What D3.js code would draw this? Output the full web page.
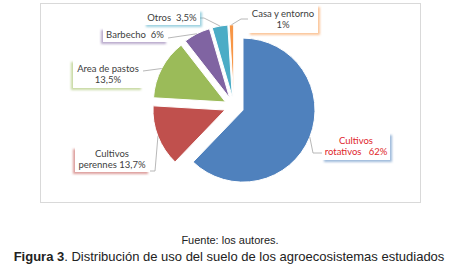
<!DOCTYPE html>
<html>
<head>
<meta charset="utf-8">
<script src="https://cdn.jsdelivr.net/npm/d3@7"></script>
<style>
  body { margin: 0; background: #fff; }
  svg { display: block; }
</style>
</head>
<body>
<div id="chart"></div>
<script>
// Distribución de uso del suelo — exploded pie with boxed labels
const categories = ["Cultivos rotativos", "Cultivos perennes", "Area de pastos", "Barbecho", "Otros", "Casa y entorno"];
const values = [62, 13.7, 13.5, 6, 3.5, 1];
const labelText = [
  ["Cultivos", "rotativos   62%"],
  ["Cultivos", "perennes 13,7%"],
  ["Area de pastos", "13,5%"],
  ["Barbecho  6%"],
  ["Otros  3,5%"],
  ["Casa y entorno", "1%"]
];
const colors = ["#4f81bd", "#c0504d", "#9bbb59", "#8064a2", "#4bacc6", "#f79646"];

(function(){
  const width = 457, height = 272;
  const cx = 234, cy = 106.5, r = 72, explode = 9.7;

  // label boxes: x, y, w, h, text center x, leader elbow and box anchor, shadow dx
  const boxes = [
    {x: 322, y: 133, w: 68, h: 27, tx: 356, elbow: [313, 153], anchor: [322, 153], sdx: 2},
    {x: 75,  y: 147, w: 75, h: 25, tx: 112, elbow: [155, 171], anchor: [150, 171], sdx: -2},
    {x: 73,  y: 60,  w: 70, h: 28, tx: 108, elbow: null,       anchor: [143, 71],  sdx: -2},
    {x: 103, y: 28,  w: 65, h: 14, tx: 135, elbow: null,       anchor: [168, 38],  sdx: -2},
    {x: 144, y: 10,  w: 56, h: 15, tx: 172, elbow: [204, 18],  anchor: [200, 18],  sdx: 2},
    {x: 248, y: 5,   w: 70, h: 28, tx: 283, elbow: [241, 19],  anchor: [248, 19],  sdx: 2}
  ];

  const svg = d3.select("#chart").append("svg")
    .attr("width", width)
    .attr("height", height);

  const defs = svg.append("defs");
  colors.forEach((c, i) => {
    defs.append("filter")
      .attr("id", "sh" + i)
      .attr("x", "-20%").attr("y", "-30%")
      .attr("width", "140%").attr("height", "170%")
      .append("feDropShadow")
      .attr("dx", boxes[i].sdx)
      .attr("dy", 2)
      .attr("stdDeviation", 1.3)
      .attr("flood-color", c)
      .attr("flood-opacity", 0.55);
  });

  // chart frame
  svg.append("rect")
    .attr("x", 40.5).attr("y", 3.5)
    .attr("width", 380).attr("height", 199)
    .attr("fill", "#fff")
    .attr("stroke", "#d9d9d9");

  const pie = d3.pie().sort(null).value(d => d)(values);
  const arc = d3.arc().innerRadius(0).outerRadius(r);

  const slices = svg.append("g");
  pie.forEach((p, i) => {
    const mid = (p.startAngle + p.endAngle) / 2;
    const ox = cx + explode * Math.sin(mid);
    const oy = cy - explode * Math.cos(mid);
    p.vx = ox; p.vy = oy; p.mid = mid;
    slices.append("path")
      .attr("transform", `translate(${ox},${oy})`)
      .attr("d", arc(p))
      .attr("fill", colors[i])
      .attr("stroke", "#fff")
      .attr("stroke-width", 1);
  });

  // leader lines
  const line = d3.line();
  pie.forEach((p, i) => {
    const b = boxes[i];
    const start = [p.vx + r * Math.sin(p.mid), p.vy - r * Math.cos(p.mid)];
    const pts = b.elbow ? [start, b.elbow, b.anchor] : [start, b.anchor];
    svg.append("path")
      .attr("d", line(pts))
      .attr("fill", "none")
      .attr("stroke", "#a6a6a6")
      .attr("stroke-width", 0.8);
  });

  // label boxes
  boxes.forEach((b, i) => {
    svg.append("rect")
      .attr("x", b.x).attr("y", b.y)
      .attr("width", b.w).attr("height", b.h)
      .attr("fill", "#fff")
      .attr("filter", `url(#sh${i})`);
    const lines = labelText[i];
    const t = svg.append("text")
      .attr("text-anchor", "middle")
      .attr("font-family", "Lato, 'Open Sans', sans-serif")
      .attr("font-size", 9.5)
      .attr("fill", i === 0 ? "#e0262b" : "#404040");
    const lh = 11;
    const y0 = b.y + b.h / 2 - (lines.length - 1) * lh / 2 + 3.4;
    lines.forEach((s, k) => {
      t.append("tspan")
        .attr("x", b.tx)
        .attr("y", y0 + k * lh)
        .attr("xml:space", "preserve")
        .text(s);
    });
  });

  // captions
  svg.append("text")
    .attr("x", 230).attr("y", 244)
    .attr("text-anchor", "middle")
    .attr("font-family", "'Liberation Sans', Arial, sans-serif")
    .attr("font-size", 11)
    .attr("fill", "#222")
    .text("Fuente: los autores.");

  const cap = svg.append("text")
    .attr("x", 229).attr("y", 261)
    .attr("text-anchor", "middle")
    .attr("font-family", "'Liberation Sans', Arial, sans-serif")
    .attr("font-size", 13)
    .attr("fill", "#222");
  cap.append("tspan").attr("font-weight", "bold").text("Figura 3");
  cap.append("tspan").text(". Distribución de uso del suelo de los agroecosistemas estudiados");
})();
</script>
</body>
</html>
